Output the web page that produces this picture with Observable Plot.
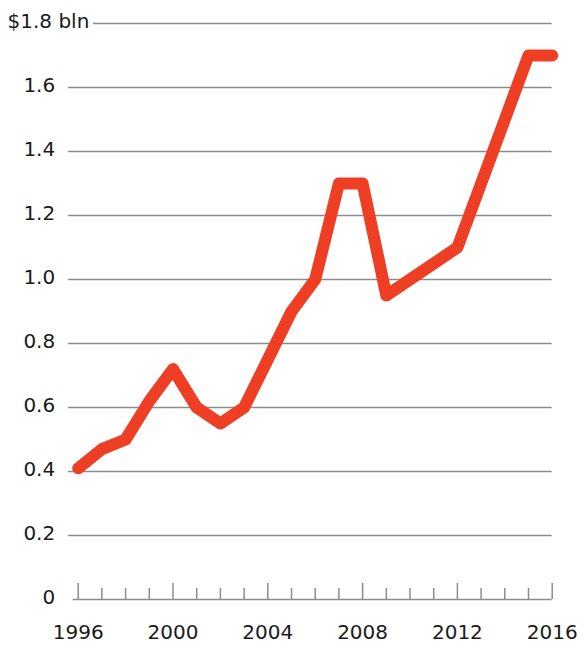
<!DOCTYPE html>
<html>
<head>
<meta charset="utf-8">
<script src="https://cdn.jsdelivr.net/npm/d3@7"></script>
<script src="https://cdn.jsdelivr.net/npm/@observablehq/plot@0.6"></script>
<style>
  html, body { margin: 0; padding: 0; background: #fff; }
  #chart svg { display: block; }
</style>
</head>
<body>
<div id="chart"></div>
<script>
const years = [1996, 1997, 1998, 1999, 2000, 2001, 2002, 2003, 2004, 2005, 2006,
               2007, 2008, 2009, 2010, 2011, 2012, 2013, 2014, 2015, 2016];
const values = [0.41, 0.47, 0.50, 0.62, 0.72, 0.60, 0.55, 0.60, 0.75, 0.90, 1.00,
                1.30, 1.30, 0.95, 1.00, 1.05, 1.10, 1.30, 1.50, 1.70, 1.70];
const yTicks = [0, 0.2, 0.4, 0.6, 0.8, 1.0, 1.2, 1.4, 1.6];
const topTick = 1.8;
const topLabel = "$1.8 bln";
const xLabelYears = [1996, 2000, 2004, 2008, 2012, 2016];

const data = years.map((year, i) => ({year, value: values[i]}));
const majorTicks = years.filter(y => xLabelYears.includes(y));
const minorTicks = years.filter(y => !xLabelYears.includes(y));

const FONT = "DejaVu Sans, sans-serif";
const GRID = "#8c8c8c";
const INK = "#1a1a1a";

const chart = Plot.plot({
  width: 583,
  height: 652,
  marginTop: 23,
  marginBottom: 53,
  marginLeft: 77.7,
  marginRight: 31.3,
  style: {fontFamily: FONT, fontSize: "20px", color: INK, background: "#fff"},
  x: {domain: [1996, 2016], axis: null},
  y: {domain: [0, 1.8], axis: null},
  marks: [
    // gridlines
    Plot.ruleY(yTicks.filter(d => d > 0), {stroke: GRID, strokeWidth: 1.5, insetLeft: -9.7}),
    Plot.ruleY([topTick], {stroke: GRID, strokeWidth: 1.5, insetLeft: 15.3}),
    // baseline
    Plot.ruleY([0], {stroke: GRID, strokeWidth: 1.5, insetLeft: -5}),
    // tick marks pointing up from baseline
    Plot.ruleX(majorTicks, {x: d => d, y1: 0, y2: 0, insetBottom: 16, stroke: GRID, strokeWidth: 1.5}),
    Plot.ruleX(minorTicks, {x: d => d, y1: 0, y2: 0, insetBottom: 11, stroke: GRID, strokeWidth: 1.5}),
    // y labels
    Plot.axisY(yTicks, {
      label: null, tickSize: 0, tickPadding: 23, dy: -2,
      tickFormat: d => d === 0 ? "0" : d.toFixed(1),
      fontSize: 20, fill: INK
    }),
    Plot.text([topTick], {
      y: d => d, text: () => topLabel, frameAnchor: "left", textAnchor: "start",
      dx: -70.7, dy: -2, fontSize: 20, fill: INK
    }),
    // x labels
    Plot.axisX(xLabelYears, {
      label: null, tickSize: 0, tickPadding: 25, tickFormat: d => String(d),
      fontSize: 20, fill: INK
    }),
    // the line
    Plot.line(data, {
      x: "year", y: "value", stroke: "#ee3e24", strokeWidth: 12,
      strokeLinejoin: "round", strokeLinecap: "round"
    })
  ]
});
document.getElementById("chart").appendChild(chart);
</script>
</body>
</html>
